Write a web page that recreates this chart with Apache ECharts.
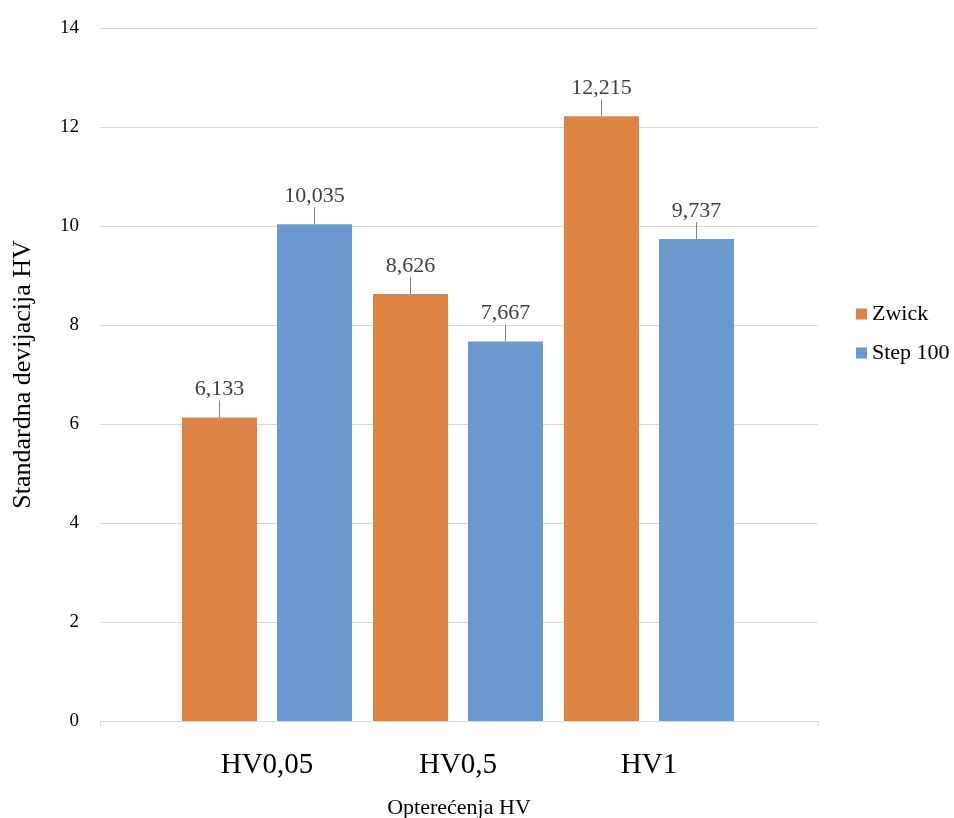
<!DOCTYPE html>
<html>
<head>
<meta charset="utf-8">
<script src="https://cdn.jsdelivr.net/npm/echarts@6/dist/echarts.min.js"></script>
<style>html,body{margin:0;padding:0;background:#fff}#c{width:954px;height:818px}</style>
</head>
<body>
<div id="c"></div>
<script>
const categories = ['HV0,05', 'HV0,5', 'HV1'];
const zwick = [6.133, 8.626, 12.215];
const step100 = [10.035, 7.667, 9.737];
const seriesNames = ['Zwick', 'Step 100'];
const yMin = 0, yMax = 14, yInterval = 2;

const FONT = '"Liberation Serif", "Times New Roman", serif';
const chart = echarts.init(document.getElementById('c'));
const fmt = p => p.value.toFixed(3).replace('.', ',');
const labelCfg = {
  show: true, position: 'top', distance: 4, formatter: fmt,
  fontFamily: FONT, fontSize: 22, color: '#404040'
};
const lineCfg = { show: true, length2: 0, lineStyle: { color: '#808080', width: 1 } };
chart.setOption({
  animation: false,
  textStyle: { fontFamily: FONT },
  legend: {
    orient: 'vertical', left: 851, top: 298,
    itemWidth: 11, itemHeight: 11, itemGap: 17, icon: 'rect',
    textStyle: { fontFamily: FONT, fontSize: 22, color: '#000' },
    data: seriesNames
  },
  grid: [
    { left: 100, right: 136, top: 28, bottom: 97, containLabel: false, outerBoundsMode: 'none' },
    { left: 171.5, right: 209.5, top: 28, bottom: 97, containLabel: false, outerBoundsMode: 'none' }
  ],
  xAxis: [
    {
      gridIndex: 0, type: 'value', min: 0, max: 1, interval: 1,
      axisLine: { show: true, lineStyle: { color: '#d9d9d9', width: 1 } },
      axisTick: { show: true, length: 5, lineStyle: { color: '#d9d9d9' } },
      axisLabel: { show: false }, splitLine: { show: false },
      name: 'Opterećenja HV', nameLocation: 'middle', nameGap: 76,
      nameTextStyle: { fontFamily: FONT, fontSize: 22, color: '#000' }
    },
    {
      gridIndex: 1, type: 'category', data: categories,
      axisLine: { show: false }, axisTick: { show: false },
      axisLabel: { fontFamily: FONT, fontSize: 29, color: '#000', margin: 30 }
    }
  ],
  yAxis: [
    {
      gridIndex: 0, type: 'value', min: yMin, max: yMax, interval: yInterval,
      axisLine: { show: false }, axisTick: { show: false },
      axisLabel: { fontFamily: FONT, fontSize: 19, color: '#000', margin: 21 },
      splitLine: { lineStyle: { color: '#d9d9d9', width: 1 } },
      name: 'Standardna devijacija HV', nameLocation: 'middle', nameGap: 64,
      nameTextStyle: { fontFamily: FONT, fontSize: 26, color: '#000' }
    },
    {
      gridIndex: 1, type: 'value', min: yMin, max: yMax, interval: yInterval,
      show: false
    }
  ],
  series: [
    {
      name: seriesNames[0], type: 'bar', xAxisIndex: 1, yAxisIndex: 1,
      data: zwick, barWidth: 75, barGap: '26.7%',
      itemStyle: { color: '#DF8344' },
      label: labelCfg, labelLayout: { dy: -13 }, labelLine: lineCfg
    },
    {
      name: seriesNames[1], type: 'bar', xAxisIndex: 1, yAxisIndex: 1,
      data: step100, barWidth: 75, barGap: '26.7%',
      itemStyle: { color: '#6A99D0' },
      label: labelCfg, labelLayout: { dy: -13 }, labelLine: lineCfg
    }
  ]
});
</script>
</body>
</html>
